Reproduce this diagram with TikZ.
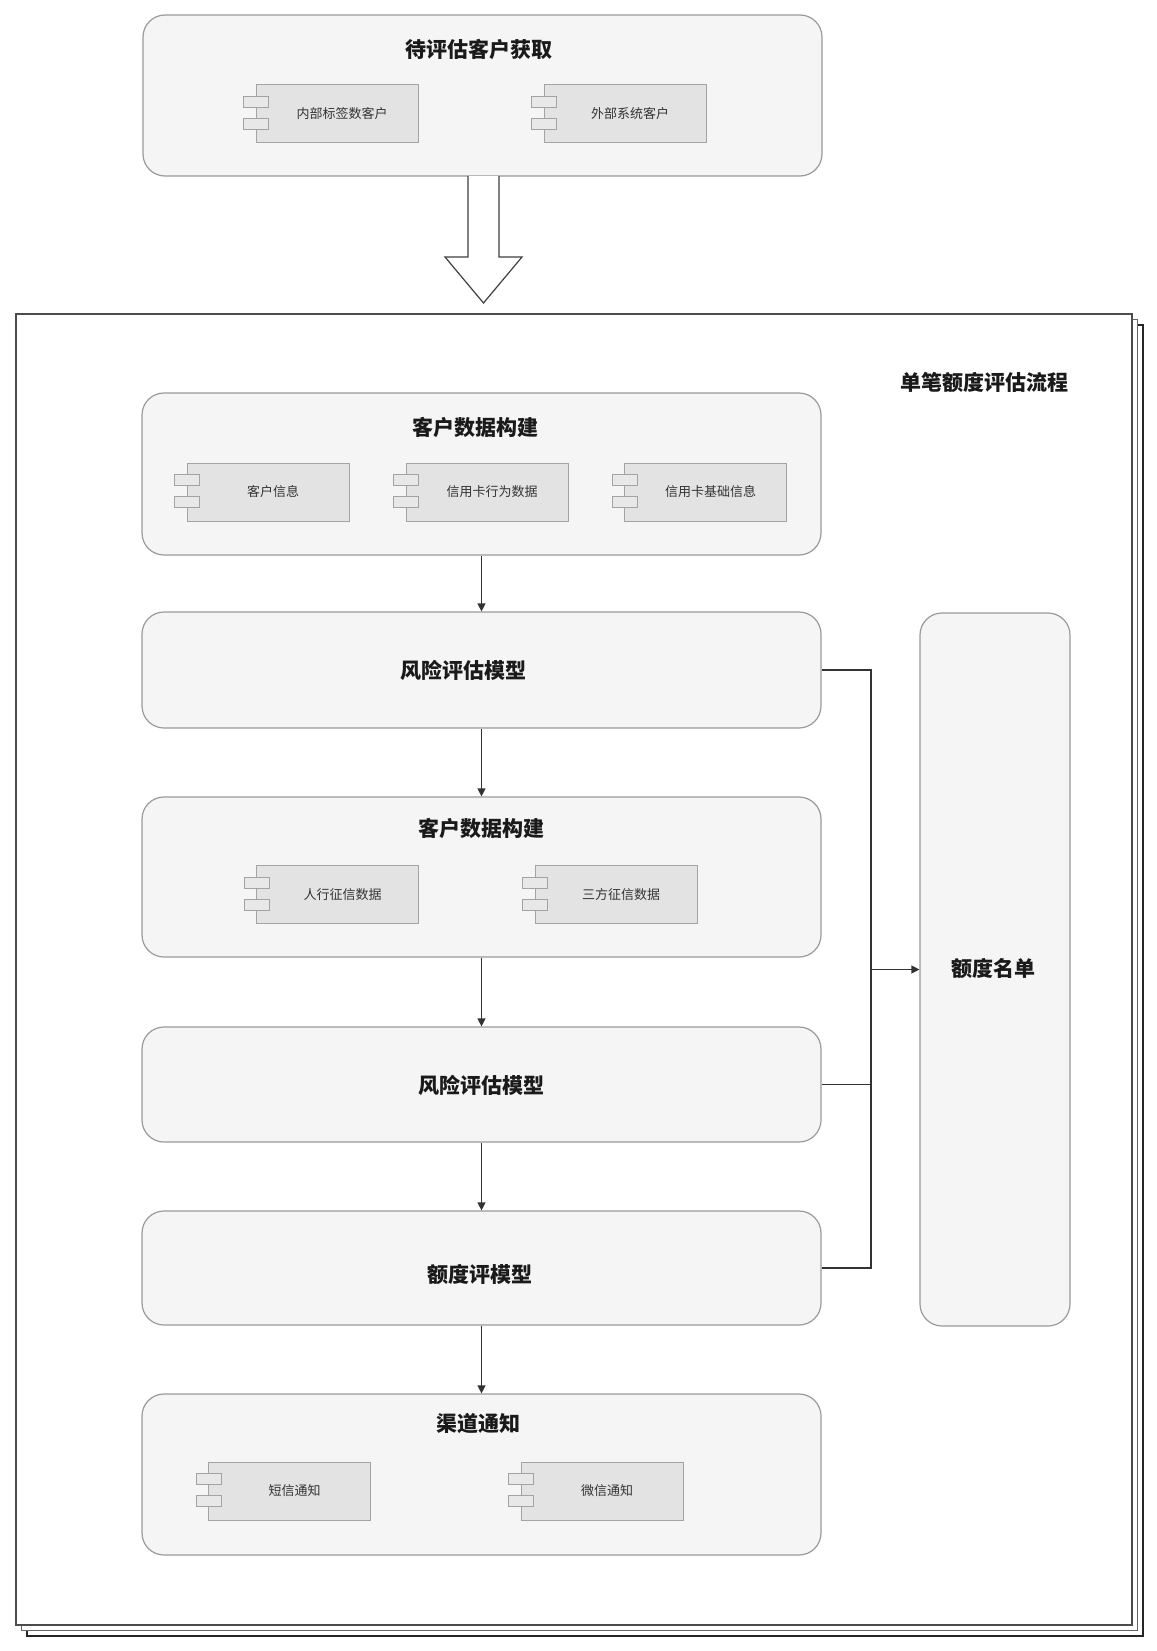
\documentclass[tikz,border=0pt]{standalone}
\usepackage{fontspec}
\setmainfont{Noto Sans CJK SC}
\usetikzlibrary{arrows.meta}
\definecolor{boxfill}{HTML}{F5F5F5}
\definecolor{boxline}{HTML}{9A9A9A}
\definecolor{compfill}{HTML}{E3E3E3}
\definecolor{compline}{HTML}{A3A3A3}
\definecolor{tabfill}{HTML}{E8E8E8}
\definecolor{comptext}{HTML}{333333}
\definecolor{connline}{HTML}{333333}
\definecolor{ttltext}{HTML}{1A1A1A}
\newcommand\mycomp[3]{%
  \node[comp] (#1) at (#2) {};
  \node[comptxt] (#1t) at ([xshift=5pt]#1.center) {#3};
  \draw[tabst] ([xshift=-12pt,yshift=-12pt]#1.north west) rectangle ++(25,11);
  \draw[tabst] ([xshift=-12pt,yshift=-34pt]#1.north west) rectangle ++(25,11);
}
\begin{document}
\begin{tikzpicture}[x=1pt,y=-1pt,
  bigbox/.style={draw=boxline, fill=boxfill, rounded corners=22pt, line width=1.2pt, inner sep=0pt, minimum width=679pt},
  comp/.style={draw=compline, fill=compfill, line width=1pt, minimum width=162pt, minimum height=58pt, inner sep=0pt},
  comptxt/.style={font=\fontsize{13}{13}\selectfont, text=comptext, inner sep=0pt},
  tabst/.style={draw=compline, fill=tabfill, line width=0.9pt},
  ttl/.style={font=\bfseries\fontsize{21}{21}\selectfont, text=ttltext, inner sep=0pt},
  conn/.style={draw=connline, line width=1.2pt},
  arr/.style={conn, -{Triangle[length=8pt,width=8pt]}},
  page/.style={fill=white, inner sep=0pt, minimum width=1116pt, minimum height=1311pt}
]
\useasboundingbox (0,0) rectangle (1156,1651);
\fill[white] (0,0) rectangle (1156,1651);

% stacked pages
\node[page, draw=black!85, line width=1.8pt] (P3) at (585,980.5) {};
\node[page, draw=black!60, line width=1.2pt] (P2) at (579.5,975) {};
\node[page, draw=black!70, line width=1.3pt] (F) at (574,969.5) {};
\node[ttl] (Ft) at (984,382) {单笔额度评估流程};

% top box
\node[bigbox, minimum height=161pt] (T) at (482.5,95.5) {};
\node[ttl] (Tt) at (479,49) {待评估客户获取};
\mycomp{T1}{337,113.5}{内部标签数客户}
\mycomp{T2}{625,113.5}{外部系统客户}

% hollow arrow
\draw[draw=black!75, fill=white, line width=1.2pt, line join=miter]
  (468,176) -- (468,257) -- (445,257) -- (483.5,303) -- (522,257) -- (499,257) -- (499,176);

% left column
\node[bigbox, minimum height=162pt] (B1) at (481.5,474) {};
\node[ttl] (B1t) at (475,427) {客户数据构建};
\mycomp{C1}{268,492}{客户信息}
\mycomp{C2}{487,492}{信用卡行为数据}
\mycomp{C3}{705.5,492}{信用卡基础信息}

\node[bigbox, minimum height=116pt] (B2) at (481.5,670) {};
\node[ttl] (B2t) at (463,670) {风险评估模型};

\node[bigbox, minimum height=160pt] (B3) at (481.5,877) {};
\node[ttl] (B3t) at (481,828) {客户数据构建};
\mycomp{D1}{337.5,894.5}{人行征信数据}
\mycomp{D2}{616,894.5}{三方征信数据}

\node[bigbox, minimum height=115pt] (B4) at (481.5,1084.5) {};
\node[ttl] (B4t) at (481,1085) {风险评估模型};

\node[bigbox, minimum height=114pt] (B5) at (481.5,1268) {};
\node[ttl] (B5t) at (480,1274) {额度评模型};

\node[bigbox, minimum height=161pt] (B6) at (481.5,1474.5) {};
\node[ttl] (B6t) at (478,1424) {渠道通知};
\mycomp{E1}{289.5,1491}{短信通知}
\mycomp{E2}{602,1491}{微信通知}

% list box
\node[bigbox, minimum width=150pt, minimum height=713pt] (L) at (995,969.5) {};
\node[ttl] (Lt) at (993,968) {额度名单};

% vertical connectors
\draw[arr] (B1.south) -- (B2.north);
\draw[arr] (B2.south) -- (B3.north);
\draw[arr] (B3.south) -- (B4.north);
\draw[arr] (B4.south) -- (B5.north);
\draw[arr] (B5.south) -- (B6.north);

% merge to list
\coordinate (J) at (871,969.5);
\draw[conn] (B2.east) -| (J);
\draw[conn] (B4.east) -| (J);
\draw[conn] (B5.east) -| (J);
\draw[arr] (J) -- (L.west);
\end{tikzpicture}
\end{document}
